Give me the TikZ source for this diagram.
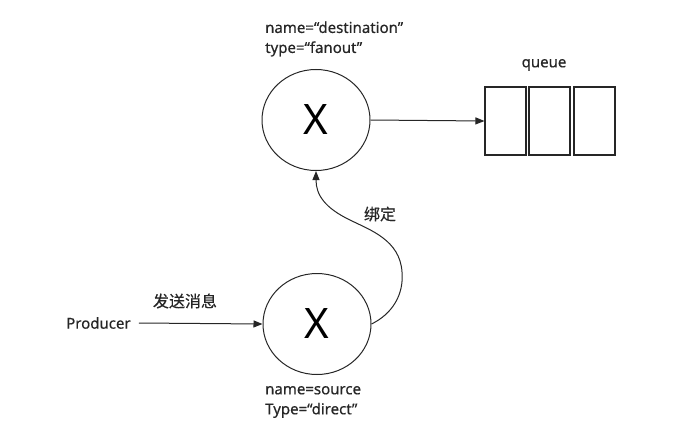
\documentclass[tikz,border=0pt]{standalone}
\usepackage{fontspec}
\setmainfont{Noto Sans}
\newfontfamily\lat{Noto Sans}[UprightFeatures={FakeBold=0.5}]
\newfontfamily\cjk{Noto Sans CJK SC}[UprightFeatures={FakeBold=0.3}]
\usetikzlibrary{arrows.meta,shapes.geometric}
\begin{document}
\begin{tikzpicture}[x=1pt,y=-1pt,
  every node/.style={inner sep=0pt},
  exch/.style={draw=black!85, ellipse, minimum width=108pt, minimum height=101pt, line width=1pt, font=\fontsize{42}{42}\selectfont},
  txt/.style={font=\lat\fontsize{15}{20}\selectfont, text=black!85},
  lbl/.style={txt, anchor=west, align=left},
  cjklbl/.style={font=\cjk\fontsize{16}{18}\selectfont, text=black!85},
  qbox/.style={draw=black!85, minimum width=41pt, minimum height=68pt, line width=1.1pt},
  arr/.style={draw=black!85, -{Triangle[length=9pt,width=7pt]}, line width=1pt}
]
\useasboundingbox (0,0) rectangle (695,436);
\node[exch] (dst) at (316,120) {X};
\node[exch] (src) at (317,324) {X};
\node[lbl] (dstlbl) at (265,39) {name=“destination”\\type=“fanout”};
\node[lbl] (srclbl) at (265,402) {name=source\\Type=“direct”};
\node[qbox] (q1) at (505.5,121) {};
\node[qbox] (q2) at (549.5,121) {};
\node[qbox] (q3) at (594.5,121) {};
\node[txt] (qlbl) at (544,65) {queue};
\node[txt, anchor=west] (prod) at (66,323) {Producer};
\node[cjklbl] (send) at (185,301) {发送消息};
\node[cjklbl] (bind) at (380,214) {绑定};
\coordinate (m1) at (402,272);
\draw[arr] (dst.east) -- (q1.west);
\draw[arr] (prod.east) ++(8pt,0) coordinate (pe) (pe) -- (src.west);
\draw[arr] (src.east) .. controls (392,314) and (404,295) .. (m1)
  .. controls (400,240) and (370,230) .. (350,220)
  .. controls (325,208) and (316,195) .. (dst.south);
\end{tikzpicture}
\end{document}
